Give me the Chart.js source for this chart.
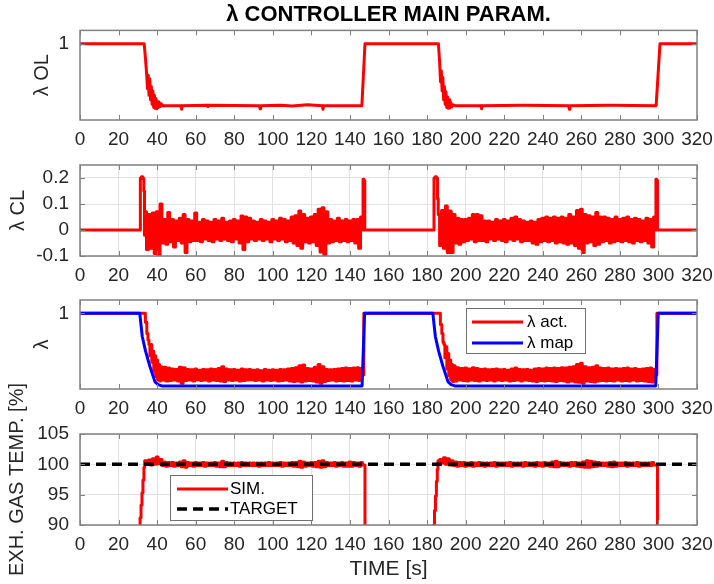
<!DOCTYPE html>
<html>
<head>
<meta charset="utf-8">
<script src="https://cdn.jsdelivr.net/npm/chart.js@4.4.1/dist/chart.umd.min.js"></script>
<style>
  html, body { margin: 0; padding: 0; background: #fff; }
  #fig { position: relative; width: 714px; height: 584px; overflow: hidden; }
  #fig canvas { position: absolute; left: 0; }
</style>
</head>
<body>
<div id="fig">
  <canvas id="c1" width="714" height="165" style="top:0px"></canvas>
  <canvas id="c2" width="714" height="165" style="top:135px"></canvas>
  <canvas id="c3" width="714" height="160" style="top:270px"></canvas>
  <canvas id="c4" width="714" height="224" style="top:360px"></canvas>
</div>
<script>
// tick positions
const xTicks = [0, 20, 40, 60, 80, 100, 120, 140, 160, 180, 200, 220, 240, 260, 280, 300, 320];
const olTicks = [1];
const clTicks = [-0.1, 0, 0.1, 0.2];
const lamTicks = [1];
const egtTicks = [90, 95, 100, 105];

// λ OL, [t, value]
const lamOL = [
  [0, 1], [33.3, 1], [34.0, 0.965], [34.6, 0.93], [35.0, 0.9], [35.4, 0.93], [35.8, 0.885], [36.2, 0.922],
  [36.6, 0.875], [37.0, 0.905], [37.4, 0.865], [37.8, 0.895], [38.2, 0.858], [38.6, 0.885], [39.0, 0.856],
  [39.4, 0.878], [39.8, 0.855], [40.2, 0.872], [40.6, 0.858], [41.0, 0.87], [41.6, 0.86], [42.2, 0.866],
  [43, 0.862], [52.4, 0.862], [52.7, 0.854], [53.0, 0.862], [66, 0.863], [66.3, 0.86], [66.6, 0.863],
  [93.1, 0.862], [93.4, 0.855], [93.7, 0.862], [104, 0.863], [110, 0.861], [118, 0.864], [125.7, 0.862],
  [126.0, 0.854], [126.3, 0.862], [146.2, 0.862], [147.8, 1],
  [185.9, 1], [186.5, 0.96], [187.0, 0.915], [187.4, 0.94], [187.8, 0.895], [188.2, 0.925], [188.6, 0.875],
  [189.0, 0.905], [189.4, 0.865], [189.8, 0.893], [190.2, 0.858], [190.6, 0.882], [191.0, 0.856],
  [191.4, 0.875], [191.8, 0.857], [192.3, 0.869], [192.8, 0.859], [193.5, 0.864], [194.5, 0.862],
  [208.0, 0.862], [208.3, 0.855], [208.6, 0.862], [230, 0.863], [253.5, 0.862], [253.8, 0.854],
  [254.1, 0.862], [275, 0.863], [298.8, 0.862], [300.8, 1], [320, 1]
];

// λ CL, edges as [t, value]; the busy stretches are 1 s samples
const clStart = [[0, 0], [31.1, 0], [31.5, 0.2], [32.2, 0.205], [32.9, 0.198], [33.3, 0.15], [33.6, -0.02]];
const clRunA = [ // t = 34 .. 146
  0.07, -0.075, 0.06, -0.07, 0.065, -0.09, 0.07, -0.1, 0.1, -0.05,
  0.04, -0.055, 0.067, -0.045, 0.04, -0.065, 0.035, -0.04, 0.045, -0.05,
  0.06, -0.087, 0.04, -0.045, 0.035, -0.04, 0.065, -0.04, 0.03, -0.045,
  0.04, -0.035, 0.035, -0.04, 0.03, -0.045, 0.04, -0.035, 0.035, -0.04,
  0.045, -0.035, 0.03, -0.04, 0.035, -0.045, 0.04, -0.035, 0.035, -0.05,
  0.054, -0.075, 0.05, -0.045, 0.045, -0.035, 0.035, -0.04, 0.03, -0.035,
  0.04, -0.04, 0.035, -0.035, 0.03, -0.045, 0.04, -0.035, 0.035, -0.04,
  0.045, -0.035, 0.04, -0.045, 0.035, -0.04, 0.05, -0.05, 0.055, -0.06,
  0.073, -0.07, 0.06, -0.045, 0.045, -0.05, 0.05, -0.045, 0.06, -0.06,
  0.08, -0.085, 0.086, -0.1, 0.07, -0.05, 0.04, -0.045, 0.035, -0.04,
  0.045, -0.045, 0.035, -0.04, 0.04, -0.045, 0.035, -0.04, 0.04, -0.05,
  0.04, -0.07, 0.05
];
const clMid = [[146.6, 0], [147.0, 0.195], [147.5, 0.19], [147.9, 0], [183.4, 0], [183.8, 0.2],
  [184.5, 0.205], [185.2, 0.2], [185.6, 0.12]];
const clRunB = [ // t = 186 .. 298
  0.06, -0.06, 0.075, -0.07, 0.092, -0.087, 0.073, -0.087, 0.06, -0.05,
  0.045, -0.055, 0.04, -0.045, 0.04, -0.04, 0.045, -0.035, 0.06, -0.045,
  0.06, -0.04, 0.055, -0.04, 0.035, -0.045, 0.035, -0.035, 0.03, -0.04,
  0.04, -0.035, 0.035, -0.04, 0.04, -0.045, 0.035, -0.035, 0.045, -0.04,
  0.05, -0.035, 0.04, -0.045, 0.035, -0.04, 0.03, -0.04, 0.035, -0.05,
  0.03, -0.055, 0.04, -0.045, 0.045, -0.04, 0.05, -0.045, 0.045, -0.04,
  0.05, -0.05, 0.045, -0.045, 0.05, -0.05, 0.045, -0.055, 0.06, -0.05,
  0.05, -0.06, 0.075, -0.07, 0.08, -0.087, 0.06, -0.05, 0.055, -0.045,
  0.05, -0.06, 0.067, -0.055, 0.05, -0.045, 0.05, -0.04, 0.045, -0.05,
  0.04, -0.045, 0.05, -0.04, 0.04, -0.045, 0.045, -0.04, 0.05, -0.045,
  0.04, -0.05, 0.045, -0.04, 0.04, -0.045, 0.035, -0.04, 0.045, -0.05,
  0.04, -0.065, 0.05
];
const clEnd = [[298.5, 0], [298.9, 0.195], [299.3, 0.19], [299.7, 0], [320, 0]];

// λ act.
const actStart = [[0, 1], [33.5, 1], [34.3, 0.98], [35.0, 0.955], [35.5, 0.94], [36.0, 0.93], [36.5, 0.905],
  [37.0, 0.93], [37.5, 0.89], [38.0, 0.915], [38.5, 0.87], [39.0, 0.905], [39.5, 0.858], [40.0, 0.895],
  [40.5, 0.85], [41.0, 0.885], [41.5, 0.848]];
const actRunA = [ // t = 42 .. 146
  0.88, 0.85, 0.879, 0.848, 0.877, 0.849, 0.875, 0.85, 0.874, 0.848,
  0.879, 0.843, 0.878, 0.849, 0.874, 0.85, 0.873, 0.848, 0.875, 0.851,
  0.872, 0.849, 0.874, 0.85, 0.873, 0.848, 0.875, 0.85, 0.874, 0.849,
  0.876, 0.848, 0.88, 0.847, 0.875, 0.85, 0.873, 0.849, 0.874, 0.85,
  0.872, 0.848, 0.875, 0.849, 0.873, 0.85, 0.874, 0.851, 0.872, 0.849,
  0.873, 0.85, 0.871, 0.848, 0.874, 0.85, 0.872, 0.849, 0.873, 0.85,
  0.872, 0.848, 0.874, 0.849, 0.873, 0.85, 0.875, 0.848, 0.876, 0.847,
  0.878, 0.848, 0.882, 0.846, 0.884, 0.848, 0.876, 0.849, 0.875, 0.848,
  0.879, 0.846, 0.885, 0.843, 0.88, 0.847, 0.874, 0.849, 0.873, 0.85,
  0.874, 0.848, 0.875, 0.849, 0.876, 0.848, 0.877, 0.849, 0.876, 0.848,
  0.877, 0.85, 0.878, 0.849, 0.876
];
const actMid = [[146.6, 0.862], [147.8, 1], [186.5, 1], [187.3, 0.975], [188.0, 0.955], [188.5, 0.935],
  [189.0, 0.93], [189.5, 0.9], [190.0, 0.925], [190.5, 0.875], [191.0, 0.91], [191.5, 0.86], [192.0, 0.895],
  [192.5, 0.85], [193.0, 0.885], [193.5, 0.847]];
const actRunB = [ // t = 194 .. 298
  0.882, 0.848, 0.878, 0.85, 0.876, 0.849, 0.877, 0.848, 0.875, 0.85,
  0.878, 0.849, 0.876, 0.848, 0.874, 0.85, 0.875, 0.849, 0.873, 0.85,
  0.874, 0.848, 0.875, 0.85, 0.873, 0.849, 0.874, 0.85, 0.872, 0.848,
  0.875, 0.849, 0.877, 0.85, 0.874, 0.848, 0.873, 0.85, 0.874, 0.849,
  0.872, 0.848, 0.875, 0.847, 0.876, 0.849, 0.875, 0.848, 0.877, 0.849,
  0.876, 0.848, 0.877, 0.847, 0.876, 0.849, 0.878, 0.848, 0.877, 0.846,
  0.879, 0.848, 0.88, 0.846, 0.885, 0.845, 0.888, 0.843, 0.88, 0.848,
  0.878, 0.847, 0.879, 0.846, 0.882, 0.848, 0.877, 0.849, 0.876, 0.848,
  0.877, 0.849, 0.875, 0.848, 0.876, 0.85, 0.875, 0.848, 0.876, 0.849,
  0.877, 0.848, 0.875, 0.85, 0.876, 0.848, 0.874, 0.849, 0.875, 0.848,
  0.876, 0.847, 0.877, 0.846, 0.874
];
const actEnd = [[298.6, 0.862], [299.8, 1], [320, 1]];

// λ map
const lamMap = [
  [0, 1], [31.0, 1], [32.3, 0.948], [34.0, 0.915], [36.3, 0.88], [38.9, 0.846], [40.5, 0.84], [42.4, 0.837],
  [146.3, 0.837], [147.6, 1], [183.0, 1], [184.3, 0.948], [186.0, 0.915], [188.3, 0.88], [190.9, 0.846],
  [192.5, 0.84], [194.4, 0.837], [298.6, 0.837], [299.9, 1], [320, 1]
];

// exhaust gas temperature
const simStart = [[0, 80], [30.4, 80], [30.9, 89], [31.4, 91.2], [31.9, 93.3], [32.4, 95.3], [32.9, 97.4],
  [33.4, 99.5], [33.7, 100.6]];
const simRunA = [ // t = 34 .. 147
  100.6, 100.1, 100.7, 99.9, 100.9, 100.0, 101.2, 100.1, 100.8, 99.8,
  100.4, 99.7, 100.3, 99.8, 100.3, 99.7, 100.2, 99.8, 100.4, 99.6,
  100.6, 99.5, 100.3, 99.8, 100.2, 99.7, 100.3, 99.8, 100.2, 99.8,
  100.3, 99.7, 100.2, 99.8, 100.2, 99.8, 100.3, 99.7, 100.2, 99.6,
  100.5, 99.6, 100.3, 99.8, 100.2, 99.8, 100.2, 99.8, 100.2, 99.7,
  100.3, 99.8, 100.2, 99.8, 100.2, 99.8, 100.2, 99.8, 100.2, 99.7,
  100.2, 99.8, 100.2, 99.8, 100.3, 99.8, 100.2, 99.8, 100.2, 99.8,
  100.3, 99.7, 100.2, 99.8, 100.2, 99.8, 100.3, 99.7, 100.3, 99.6,
  100.5, 99.5, 100.4, 99.7, 100.2, 99.8, 100.3, 99.7, 100.3, 99.6,
  100.5, 99.5, 100.6, 99.6, 100.3, 99.8, 100.2, 99.8, 100.3, 99.7,
  100.2, 99.8, 100.3, 99.7, 100.2, 99.7, 100.4, 99.7, 100.3, 99.8,
  100.2, 99.7, 100.3, 99.9
];
const simMid = [[148.6, 80], [183.1, 80], [183.6, 90], [184.1, 92.4], [184.6, 94.8], [185.1, 97.2],
  [185.5, 99.2], [185.8, 100.6]];
const simRunB = [ // t = 186 .. 298
  100.3, 100.8, 100.2, 101.1, 100.0, 100.9, 99.9, 100.6, 99.8, 100.4,
  99.7, 100.3, 99.8, 100.3, 99.7, 100.2, 99.8, 100.3, 99.7, 100.2,
  99.8, 100.3, 99.8, 100.2, 99.7, 100.2, 99.8, 100.2, 99.8, 100.3,
  99.7, 100.2, 99.8, 100.2, 99.8, 100.2, 99.8, 100.3, 99.7, 100.2,
  99.8, 100.2, 99.8, 100.2, 99.7, 100.3, 99.8, 100.2, 99.8, 100.2,
  99.7, 100.3, 99.8, 100.2, 99.7, 100.3, 99.8, 100.2, 99.7, 100.4,
  99.6, 100.5, 99.6, 100.3, 99.8, 100.2, 99.8, 100.2, 99.7, 100.3,
  99.8, 100.3, 99.7, 100.2, 99.6, 100.4, 99.5, 100.6, 99.5, 100.5,
  99.6, 100.4, 99.7, 100.3, 99.8, 100.2, 99.8, 100.2, 99.7, 100.3,
  99.6, 100.4, 99.7, 100.2, 99.8, 100.2, 99.8, 100.3, 99.7, 100.2,
  99.8, 100.2, 99.8, 100.3, 99.7, 100.2, 99.8, 100.2, 99.8, 100.2,
  99.8, 100.3, 99.9
];
const simEnd = [[301, 80], [320, 80]];
const target = [[0, 100], [320, 100]];

const pts = arr => arr.map(([x, y]) => ({ x, y }));
const secs = (t0, vals) => vals.map((y, i) => ({ x: t0 + i, y }));

const FONT = '"Liberation Sans", Arial, Helvetica, sans-serif';
Chart.defaults.font.family = FONT;
const tickColor = '#262626';
const gridColor = '#e2e2e2';
const frameColor = '#808080';

// box with inward tick marks on all four sides
const frame = {
  id: 'frame',
  afterDraw(chart) {
    const { ctx, chartArea: a, scales: { x, y } } = chart;
    ctx.save();
    ctx.strokeStyle = frameColor;
    ctx.lineWidth = 1;
    ctx.beginPath();
    x.ticks.forEach(t => {
      const px = Math.round(x.getPixelForValue(t.value)) + 0.5;
      ctx.moveTo(px, a.top); ctx.lineTo(px, a.top + 5);
      ctx.moveTo(px, a.bottom); ctx.lineTo(px, a.bottom - 5);
    });
    y.ticks.forEach(t => {
      const py = Math.round(y.getPixelForValue(t.value)) + 0.5;
      ctx.moveTo(a.left, py); ctx.lineTo(a.left + 5, py);
      ctx.moveTo(a.right, py); ctx.lineTo(a.right - 5, py);
    });
    ctx.stroke();
    ctx.lineWidth = 1.5;
    ctx.strokeRect(a.left, a.top, a.right - a.left, a.bottom - a.top);
    ctx.restore();
  }
};

// legend drawn as a framed box inside the axes
const boxLegend = {
  id: 'boxLegend',
  afterDraw(chart, args, opts) {
    const b = opts && opts.box;
    if (!b) return;
    const { ctx, chartArea: a } = chart;
    const bx = a.left + b.left, by = a.top + b.top;
    ctx.save();
    ctx.fillStyle = '#fff';
    ctx.fillRect(bx, by, b.width, b.height);
    ctx.strokeStyle = '#707070';
    ctx.lineWidth = 1;
    ctx.strokeRect(bx + 0.5, by + 0.5, b.width, b.height);
    ctx.font = '17px ' + FONT;
    ctx.textBaseline = 'middle';
    chart.data.datasets.forEach((ds, i) => {
      const ry = by + b.rows[i];
      ctx.strokeStyle = ds.borderColor;
      ctx.lineWidth = ds.borderWidth;
      ctx.setLineDash(ds.borderDash || []);
      ctx.beginPath();
      ctx.moveTo(bx + b.line[0], ry);
      ctx.lineTo(bx + b.line[1], ry);
      ctx.stroke();
      ctx.setLineDash([]);
      ctx.fillStyle = '#000';
      ctx.fillText(ds.label, bx + b.textX, ry);
    });
    ctx.restore();
  }
};

function line(label, data, color, extra) {
  return Object.assign({
    label, data, borderColor: color, backgroundColor: color, borderWidth: 3,
    pointRadius: 0, tension: 0, fill: false, borderJoinStyle: 'round'
  }, extra || {});
}

function panel(id, o) {
  return new Chart(document.getElementById(id), {
    type: 'line',
    data: { datasets: o.datasets },
    options: {
      responsive: false,
      animation: false,
      events: [],
      layout: { padding: { left: o.padLeft, right: 17, top: o.padTop, bottom: o.padBottom } },
      plugins: {
        legend: { display: false },
        tooltip: { enabled: false },
        title: o.title ? {
          display: true, text: o.title, fullSize: false, color: '#000',
          font: { size: 22, weight: 'bold' }, padding: { top: 2, bottom: 2 }
        } : { display: false },
        boxLegend: o.legend ? { box: o.legend } : {}
      },
      scales: {
        x: {
          type: 'linear', min: 0, max: 320,
          afterBuildTicks: s => { s.ticks = xTicks.map(v => ({ value: v })); },
          afterFit: s => { s.height = o.xHeight; s.paddingLeft = 0; s.paddingRight = 0; },
          ticks: { autoSkip: false, maxRotation: 0, padding: 8, color: tickColor, font: { size: 19 } },
          grid: { display: o.grid, drawTicks: false, color: gridColor },
          border: { display: false },
          title: o.xTitle ? {
            display: true, text: o.xTitle, color: tickColor, font: { size: 21 }, padding: { top: 0, bottom: 0 }
          } : { display: false }
        },
        y: {
          type: 'linear', min: o.yMin, max: o.yMax,
          afterBuildTicks: s => { s.ticks = o.yTicks.map(v => ({ value: v })); },
          afterFit: s => { s.width = 80 - o.padLeft; s.paddingTop = 0; s.paddingBottom = 0; },
          ticks: { padding: 11, color: tickColor, font: { size: 19 } },
          grid: { display: o.grid, drawTicks: false, color: gridColor },
          border: { display: false },
          title: { display: true, text: o.yTitle, color: tickColor, font: { size: 20 }, padding: { top: 0, bottom: 0 } }
        }
      }
    },
    plugins: [frame, boxLegend]
  });
}

panel('c1', {
  title: 'λ CONTROLLER MAIN PARAM.',
  yTitle: 'λ OL', yMin: 0.83, yMax: 1.03, yTicks: olTicks, grid: false,
  padLeft: 30, padTop: 0, padBottom: 15, xHeight: 30,
  datasets: [line('λ OL', pts(lamOL), '#ff0000')]
});

panel('c2', {
  yTitle: 'λ CL', yMin: -0.1, yMax: 0.25, yTicks: clTicks, grid: true,
  padLeft: 6, padTop: 30, padBottom: 14, xHeight: 30,
  datasets: [line('λ CL', pts(clStart).concat(secs(34, clRunA), pts(clMid), secs(186, clRunB), pts(clEnd)),
    '#ff0000', { stepped: 'middle' })]
});

panel('c3', {
  yTitle: 'λ', yMin: 0.83, yMax: 1.03, yTicks: lamTicks, grid: false,
  padLeft: 30, padTop: 30, padBottom: 11, xHeight: 30,
  legend: { left: 386, top: 8, width: 119, height: 45, rows: [14, 35], line: [6, 57], textX: 61 },
  datasets: [
    line('λ act.', pts(actStart).concat(secs(42, actRunA), pts(actMid), secs(194, actRunB), pts(actEnd)),
      '#ff0000', { order: 1, stepped: 'middle' }),
    line('λ map', pts(lamMap), '#0000ff', { order: 0 })
  ]
});

panel('c4', {
  yTitle: 'EXH. GAS TEMP. [%]', xTitle: 'TIME [s]', yMin: 90, yMax: 105, yTicks: egtTicks, grid: true,
  padLeft: 5, padTop: 74, padBottom: 2, xHeight: 57,
  legend: { left: 90, top: 41, width: 142, height: 45, rows: [14, 34], line: [7, 58], textX: 60 },
  datasets: [
    line('SIM.', pts(simStart).concat(secs(34, simRunA), pts(simMid), secs(186, simRunB), pts(simEnd)),
      '#ff0000', { order: 1, stepped: 'middle' }),
    line('TARGET', pts(target), '#000000', { order: 0, borderWidth: 3.5, borderDash: [10, 6] })
  ]
});
</script>
</body>
</html>
